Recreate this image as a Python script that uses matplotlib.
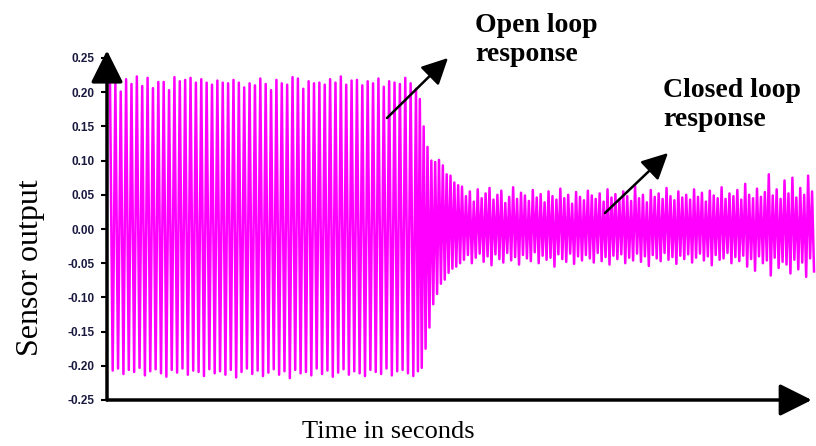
import numpy as np
import matplotlib
matplotlib.use("Agg")
import matplotlib.pyplot as plt

# peak / trough values (sensor output)
open_hi = [0.214, 0.213, 0.201, 0.219, 0.212, 0.223, 0.209, 0.221, 0.206, 0.215,
           0.215, 0.203, 0.222, 0.216, 0.218, 0.221, 0.214, 0.219, 0.214, 0.211,
           0.217, 0.214, 0.213, 0.218, 0.214, 0.207, 0.213, 0.210, 0.220, 0.212,
           0.203, 0.218, 0.213, 0.211, 0.222, 0.220, 0.205, 0.216, 0.213, 0.214,
           0.211, 0.219, 0.214, 0.223, 0.211, 0.217, 0.218, 0.210, 0.216, 0.213,
           0.220, 0.208, 0.216, 0.214, 0.212, 0.221, 0.213]
open_lo = [-0.207, -0.204, -0.212, -0.206, -0.209, -0.203, -0.214, -0.208, -0.205, -0.211,
           -0.216, -0.206, -0.210, -0.204, -0.213, -0.207, -0.209, -0.215, -0.205, -0.211,
           -0.208, -0.213, -0.206, -0.217, -0.209, -0.204, -0.212, -0.207, -0.215, -0.210,
           -0.205, -0.213, -0.208, -0.218, -0.206, -0.211, -0.209, -0.214, -0.204, -0.212,
           -0.207, -0.216, -0.210, -0.205, -0.213, -0.208, -0.211, -0.215, -0.206, -0.209,
           -0.212, -0.204, -0.214, -0.208, -0.206, -0.211, -0.215]
trans_hi = [0.205, 0.190, 0.150, 0.120, 0.100, 0.098, 0.101, 0.093, 0.080, 0.078, 0.068, 0.064]
trans_lo = [-0.208, -0.203, -0.175, -0.144, -0.110, -0.095, -0.080, -0.074, -0.064, -0.058, -0.055, -0.050]
closed_hi = [0.062, 0.048, 0.055, 0.040, 0.058, 0.045, 0.052, 0.060, 0.043, 0.050,
             0.056, 0.038, 0.047, 0.061, 0.044, 0.053, 0.049, 0.041, 0.057, 0.046,
             0.051, 0.039, 0.055, 0.048, 0.043, 0.059, 0.045, 0.050, 0.037, 0.054,
             0.047, 0.042, 0.056, 0.049, 0.044, 0.052, 0.040, 0.058, 0.046, 0.051,
             0.043, 0.055, 0.048, 0.041, 0.063, 0.045, 0.050, 0.039, 0.057, 0.047,
             0.052, 0.044, 0.060, 0.048, 0.042, 0.055, 0.046, 0.050, 0.043, 0.058,
             0.047, 0.053, 0.040, 0.056, 0.049, 0.045, 0.061, 0.044, 0.052, 0.048,
             0.057, 0.043, 0.066, 0.050, 0.045, 0.059, 0.047, 0.054, 0.080, 0.049,
             0.058, 0.044, 0.071, 0.052, 0.075, 0.046, 0.060, 0.050, 0.078, 0.055]
closed_lo = [-0.045, -0.038, -0.050, -0.042, -0.036, -0.048, -0.040, -0.053, -0.037, -0.044,
             -0.049, -0.035, -0.046, -0.041, -0.052, -0.038, -0.043, -0.047, -0.034, -0.050,
             -0.039, -0.045, -0.042, -0.055, -0.037, -0.044, -0.048, -0.036, -0.051, -0.040,
             -0.046, -0.038, -0.043, -0.049, -0.035, -0.047, -0.041, -0.052, -0.039, -0.044,
             -0.037, -0.050, -0.042, -0.046, -0.036, -0.048, -0.040, -0.054, -0.038, -0.043,
             -0.047, -0.035, -0.045, -0.041, -0.051, -0.039, -0.044, -0.037, -0.049, -0.042,
             -0.036, -0.046, -0.040, -0.053, -0.038, -0.045, -0.043, -0.035, -0.050, -0.041,
             -0.047, -0.039, -0.055, -0.044, -0.061, -0.040, -0.050, -0.046, -0.068, -0.042,
             -0.057, -0.048, -0.052, -0.065, -0.045, -0.059, -0.049, -0.070, -0.043, -0.062]

# time span of each segment (seconds)
segments = [(open_hi, open_lo, 0.0, 30.6),
            (trans_hi, trans_lo, 30.6, 35.2),
            (closed_hi, closed_lo, 35.2, 70.6)]

y_ticks = [0.25, 0.20, 0.15, 0.10, 0.05, 0.00, -0.05, -0.10, -0.15, -0.20, -0.25]
y_ticklabels = ["0.25", "0.20", "0.15", "0.10", "0.05", "0.00",
                "-0.05", "-0.10", "-0.15", "-0.20", "-0.25"]

t_all, y_all = [], []
for hi, lo, t0, t1 in segments:
    vals = [v for pair in zip(hi, lo) for v in pair]
    t_all.append(np.linspace(t0, t1, len(vals), endpoint=False))
    y_all.append(vals)
t_all = np.concatenate(t_all)
y_all = np.concatenate(y_all)

fig = plt.figure(figsize=(8.16, 4.46), dpi=100)
ax = fig.add_axes([107 / 816, 1 - 400 / 446, 709 / 816, 342 / 446])

ax.plot(t_all, y_all, color="#ff00ff", lw=1.8, clip_on=False)
ax.set_xlim(-0.3, 70.6)
ax.set_ylim(-0.25, 0.25)

for s in ax.spines.values():
    s.set_visible(False)
ax.set_xticks([])
ax.set_yticks(y_ticks)
ax.set_yticklabels(y_ticklabels, fontsize=8.5, fontweight="bold",
                   fontfamily="Liberation Sans", color="#1a1a40")
ax.tick_params(axis="y", length=4, width=1.5, pad=5, color="black")

# axis arrows
arrow = dict(arrowstyle="-|>,head_length=0.9,head_width=0.45", color="black",
             lw=2.5, mutation_scale=22, shrinkA=0, shrinkB=0)
ax.annotate("", xy=(0, 1.022), xytext=(0, 0), xycoords="axes fraction",
            arrowprops=arrow)
ax.annotate("", xy=(0.994, 0), xytext=(0, 0), xycoords="axes fraction",
            arrowprops=arrow)

serif = "Liberation Serif"
fig.text(31 / 816, 1 - 268 / 446, "Sensor output", rotation=90, ha="center",
         va="center", fontsize=23, fontfamily=serif)
fig.text(388 / 816, 1 - 432 / 446, "Time in seconds", ha="center", va="center",
         fontsize=19, fontfamily=serif)

# response annotations
pointer = dict(arrowstyle="-|>,head_length=0.8,head_width=0.4", color="black",
               lw=1.8, mutation_scale=20, shrinkA=0, shrinkB=0)
fig.text(475 / 816, 1 - 40 / 446, "Open loop\nresponse", ha="left", va="center",
         fontsize=20, fontweight="bold", fontfamily=serif, linespacing=1.25)
ax.annotate("", xy=(448 / 816, 1 - 58 / 446), xytext=(387 / 816, 1 - 118 / 446),
            xycoords="figure fraction", arrowprops=pointer)
fig.text(663 / 816, 1 - 105 / 446, "Closed loop\nresponse", ha="left", va="center",
         fontsize=20, fontweight="bold", fontfamily=serif, linespacing=1.25)
ax.annotate("", xy=(668 / 816, 1 - 153 / 446), xytext=(605 / 816, 1 - 213 / 446),
            xycoords="figure fraction", arrowprops=pointer)

fig.savefig("out.png", dpi=100)
